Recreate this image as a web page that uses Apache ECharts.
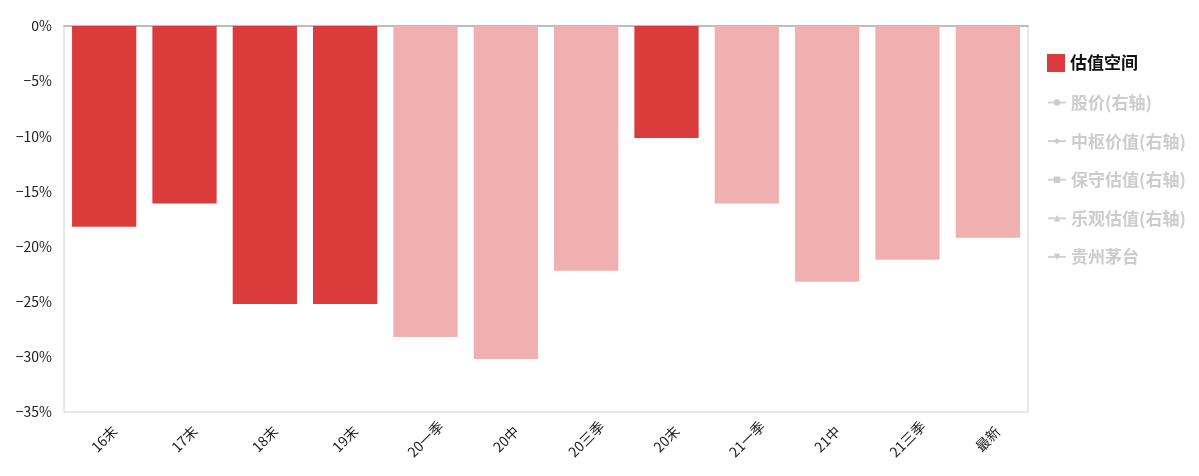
<!DOCTYPE html>
<html><head><meta charset="utf-8">
<script src="https://cdn.jsdelivr.net/npm/echarts@6/dist/echarts.min.js"></script>
<style>html,body{margin:0;padding:0;background:#fff}#c{width:1199px;height:476px}</style>
</head><body><div id="c"></div>
<script>
const categories = ['16末','17末','18末','19末','20一季','20中','20三季','20末','21一季','21中','21三季','最新'];
const spaceValues = [-18.2,-16.1,-25.2,-25.2,-28.2,-30.2,-22.2,-10.15,-16.1,-23.2,-21.2,-19.2];
const highlighted = [true,true,true,true,false,false,false,true,false,false,false,false];
const yTicks = [0,-5,-10,-15,-20,-25,-30,-35];
const legendNames = ['估值空间','股价(右轴)','中枢价值(右轴)','保守估值(右轴)','乐观估值(右轴)','贵州茅台'];

const dark = '#DC3B3B', light = '#F0B0B0';
const font = '"Noto Sans CJK SC",sans-serif';
const chart = echarts.init(document.getElementById('c'));
const barData = spaceValues.map((v,i)=>({value:v,itemStyle:{color: highlighted[i]?dark:light}}));
const symbols = ['circle','diamond','rect','triangle','path://M0,0 L10,0 L5,8 Z'];
const lineSeries = legendNames.slice(1).map((n,i)=>({
  name:n,type:'line',data:[],symbol:symbols[i],symbolSize:6,itemStyle:{color:'#999'},lineStyle:{width:2}
}));
const selected = {};
legendNames.forEach((n,i)=>selected[n]= i===0);
const legendText = {fontSize:17,fontWeight:'bold',color:'#111',fontFamily:font};
chart.setOption({
  animation:false,
  grid:{left:64,right:171,top:26,bottom:64,show:true,borderColor:'#d0d0d0',borderWidth:1},
  legend:[{
    orient:'vertical',left:1042,top:49,itemWidth:18,itemHeight:18,itemGap:5,
    data:[{name:legendNames[0],icon:'rect'}],
    selected:selected,inactiveColor:'#cccccc',textStyle:legendText
  },{
    orient:'vertical',left:1042,top:89,itemWidth:18,itemHeight:8,itemGap:21.6,
    data:legendNames.slice(1),
    selected:selected,inactiveColor:'#cccccc',textStyle:legendText
  }],
  xAxis:[{
    type:'category',data:categories,position:'bottom',
    axisLine:{show:false},axisTick:{show:false},
    axisLabel:{rotate:45,align:'center',verticalAlign:'middle',fontSize:14,color:'#222',margin:27,interval:0,fontFamily:font}
  },{
    type:'category',data:categories,position:'top',
    axisLine:{show:true,lineStyle:{color:'#b8bec8',width:2}},axisTick:{show:false},axisLabel:{show:false}
  }],
  yAxis:{
    type:'value',min:-35,max:0,interval:5,
    axisLine:{show:false},axisTick:{show:false},splitLine:{show:false},
    axisLabel:{formatter:v=>yTicks.includes(v)?(v===0?'0%':'−'+Math.abs(v)+'%'):'',fontSize:14,color:'#222',margin:12,fontFamily:font}
  },
  series:[{name:'估值空间',type:'bar',data:barData,barWidth:'80%',itemStyle:{color:dark}}].concat(lineSeries)
});
</script></body></html>
